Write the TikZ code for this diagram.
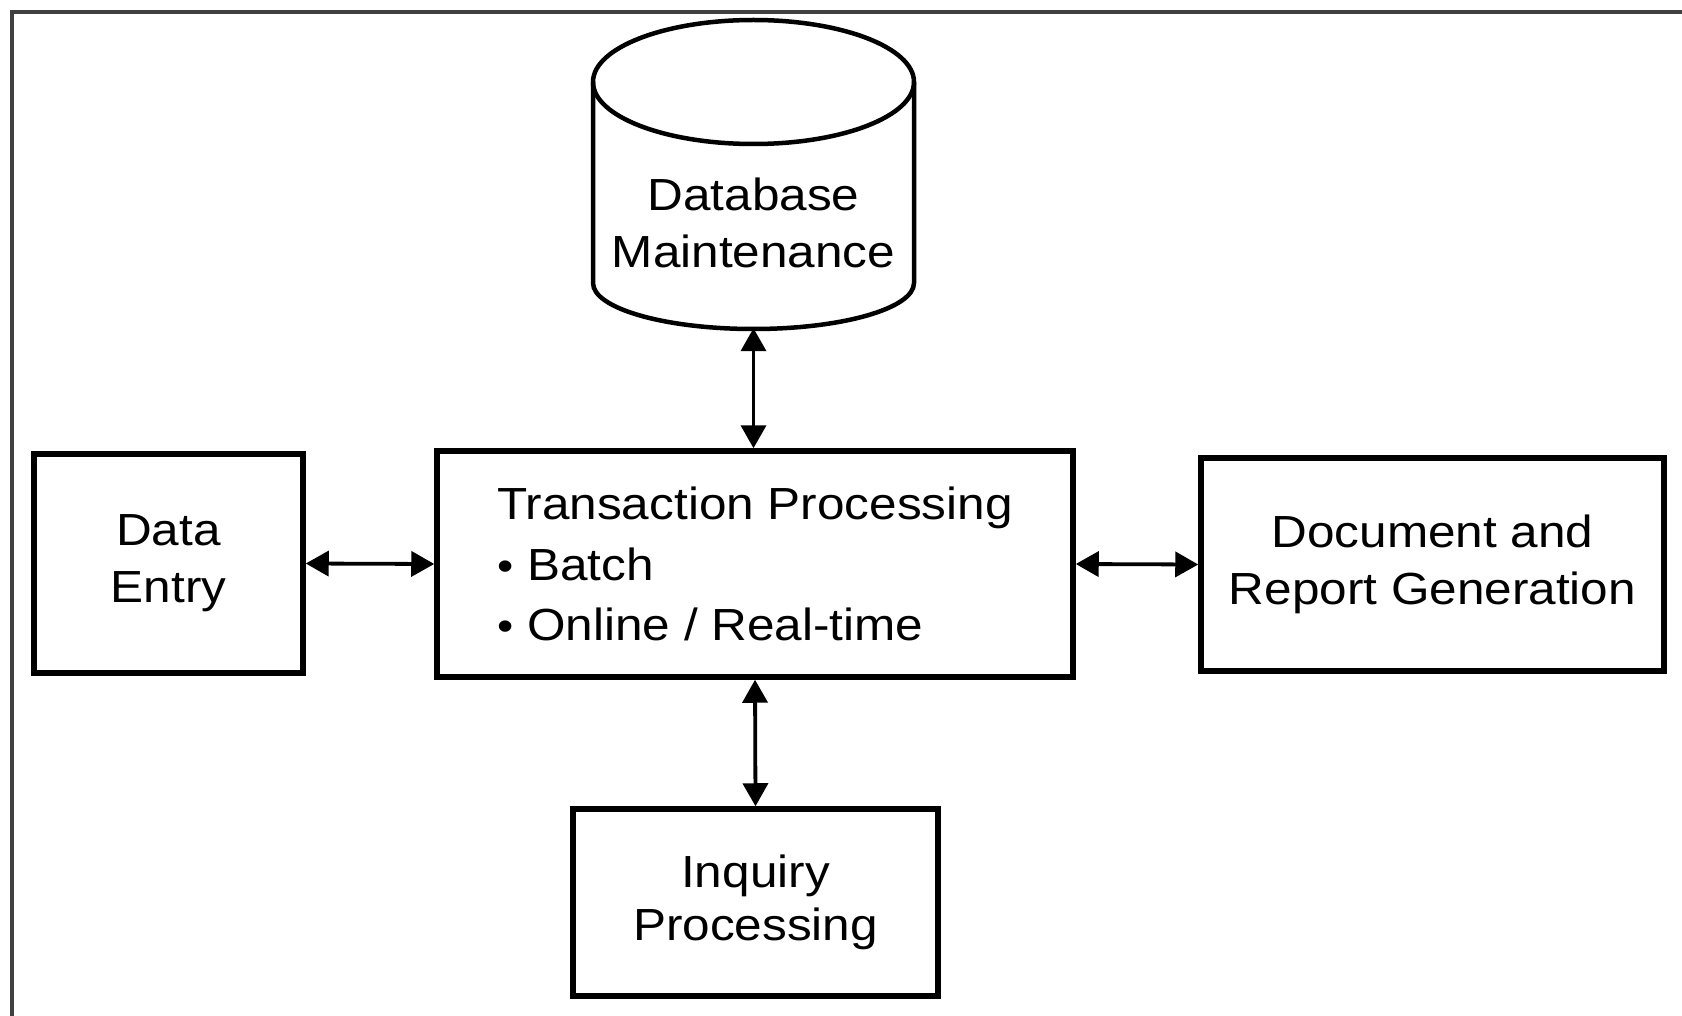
\documentclass[tikz,border=0pt]{standalone}
\usepackage{fontspec}
\setmainfont{Liberation Sans}[FakeStretch=1.1]
\usetikzlibrary{arrows.meta}
\newcommand{\smallbul}{{\fontsize{42}{42}\selectfont\textbullet}}
\begin{document}
\begin{tikzpicture}[x=1pt,y=-1pt,
  box/.style={draw=black, line width=5.5pt, align=center, inner sep=0pt,
    font=\fontsize{45}{57}\selectfont},
  txt/.style={align=center, inner sep=0pt, font=\fontsize{45}{57}\selectfont},
  conn/.style={line width=3.8pt,
    {Triangle[length=23pt,width=25pt]}-{Triangle[length=23pt,width=25pt]}},
  frameline/.style={draw=gray!50!black, line width=3.5pt}]
\useasboundingbox (0,0) rectangle (1682,1016);
\draw[frameline] (12,1016) -- (12,12) -- (1682,12);
% cylinder
\draw[line width=4.5pt] (593,82) -- (593,283)
  arc[start angle=180, end angle=0, x radius=160.5, y radius=46] -- (914,82);
\draw[line width=4.5pt] (753.5,82) ellipse[x radius=160.5, y radius=62];
\node[txt, minimum width=321pt, minimum height=210pt] (db) at (753.5,223)
  {Database\\Maintenance};
% boxes
\node[box, minimum width=269pt, minimum height=219pt] (de) at (168.5,563.5)
  {Data\\Entry};
\node[box, minimum width=636pt, minimum height=226pt, align=left,
  font=\fontsize{45}{60.5}\selectfont] (tp) at (755,564)
  {Transaction Processing\\\smallbul\ Batch\\\smallbul\ Online / Real-time};
\node[box, minimum width=463pt, minimum height=213pt] (dr) at (1432.5,564.5)
  {Document and\\Report Generation};
\node[box, minimum width=365pt, minimum height=187pt,
  font=\fontsize{45}{53}\selectfont] (iq) at (755.5,902.5)
  {Inquiry\\Processing};
% connectors
\draw[conn] (db.south) -- (db.south |- tp.north);
\draw[conn] (tp.south) -- (iq.north);
\draw[conn] (de.east) -- (tp.west);
\draw[conn] (tp.east) -- (dr.west);
\end{tikzpicture}
\end{document}
